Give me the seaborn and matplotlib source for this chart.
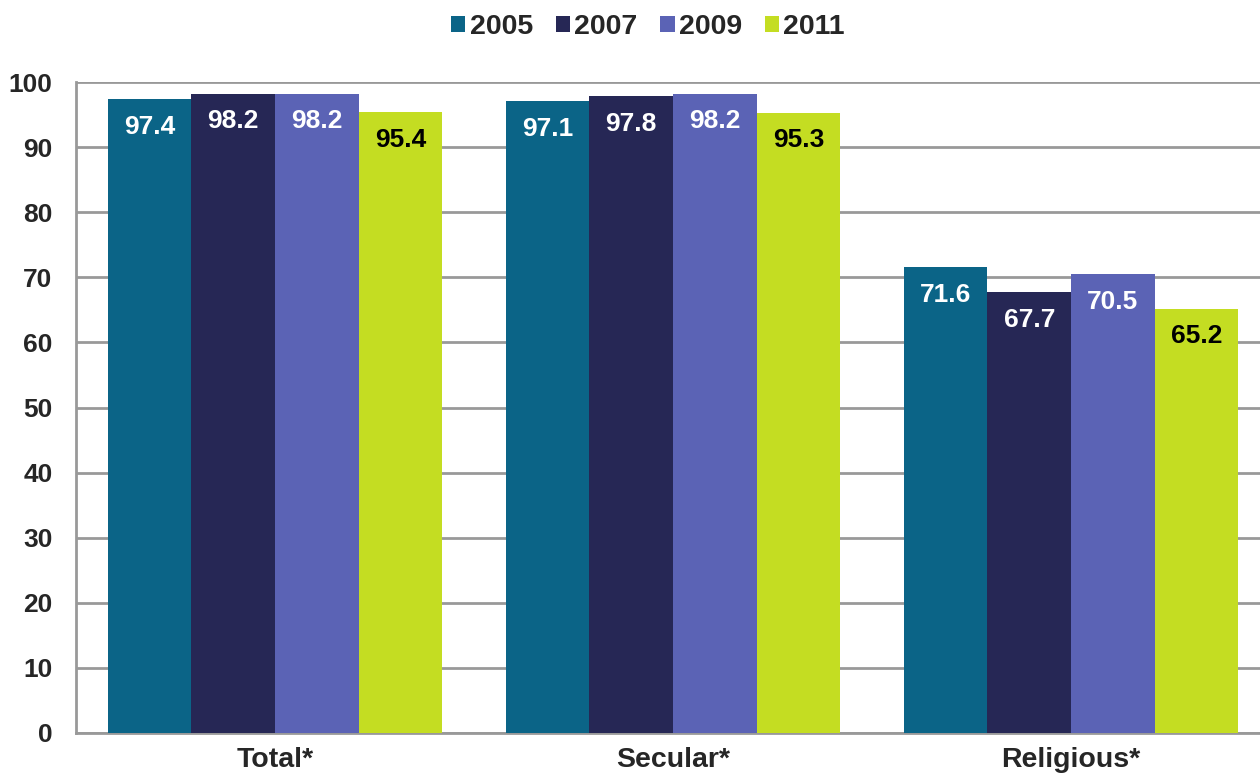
import pandas as pd
import matplotlib
matplotlib.use('Agg')
import matplotlib.pyplot as plt
import seaborn as sns
from matplotlib.patches import Patch

# Chart data
categories = ['Total*', 'Secular*', 'Religious*']
years = ['2005', '2007', '2009', '2011']
values_2005 = [97.4, 97.1, 71.6]
values_2007 = [98.2, 97.8, 67.7]
values_2009 = [98.2, 98.2, 70.5]
values_2011 = [95.4, 95.3, 65.2]
y_ticks = [0, 10, 20, 30, 40, 50, 60, 70, 80, 90, 100]

colors = ['#0B6487', '#262755', '#5B63B5', '#C4DD22']
label_colors = ['white', 'white', 'white', 'black']

sns.set_style('white')
plt.rcParams['font.family'] = ['Liberation Sans', 'DejaVu Sans']
plt.rcParams['font.weight'] = 'bold'

rows = []
for year, vals in zip(years, [values_2005, values_2007, values_2009, values_2011]):
    for cat, v in zip(categories, vals):
        rows.append({'category': cat, 'year': year, 'value': v})
df = pd.DataFrame(rows)

fig = plt.figure(figsize=(12.6, 7.8), dpi=100)
ax = fig.add_axes([76 / 1260, 1 - 733 / 780, 1194 / 1260, 651 / 780])

sns.barplot(data=df, x='category', y='value', hue='year', order=categories,
            hue_order=years, palette=colors, width=0.84, gap=0,
            linewidth=0, saturation=1, ax=ax, legend=False, zorder=3)

# Value labels inside bars
for container, lc, vals in zip(ax.containers, label_colors,
                               [values_2005, values_2007, values_2009, values_2011]):
    for bar, v in zip(container, vals):
        ax.annotate(f'{v:.1f}', (bar.get_x() + bar.get_width() / 2, v),
                    xytext=(0, -20), textcoords='offset points',
                    ha='center', va='center', color=lc,
                    fontsize=19, fontweight='bold', zorder=4)

ax.set_ylim(0, 100)
ax.set_xlim(-0.5, 2.5)
ax.set_yticks(y_ticks)
ax.set_yticklabels([str(t) for t in y_ticks], fontsize=19, fontweight='bold')
ax.tick_params(axis='y', length=8, width=2, color='#999999', pad=9)
ax.tick_params(axis='x', length=0, labelsize=20.5, pad=10)
for lbl in ax.get_xticklabels():
    lbl.set_fontweight('bold')
ax.set_xlabel('')
ax.set_ylabel('')

ax.grid(axis='y', color='#999999', linewidth=2, zorder=0)
ax.set_axisbelow(True)
for side in ['top', 'right']:
    ax.spines[side].set_visible(False)
for side in ['left', 'bottom']:
    ax.spines[side].set_color('#999999')
    ax.spines[side].set_linewidth(2)

handles = [Patch(facecolor=c, edgecolor='none') for c in colors]
fig.legend(handles, years, loc='center', bbox_to_anchor=(648 / 1260, 1 - 27 / 780),
           ncol=4, frameon=False, handlelength=0.5, handleheight=0.5,
           handletextpad=0.15, columnspacing=0.8, prop={'weight': 'bold', 'size': 20.5})

fig.savefig('out.png', dpi=100)
